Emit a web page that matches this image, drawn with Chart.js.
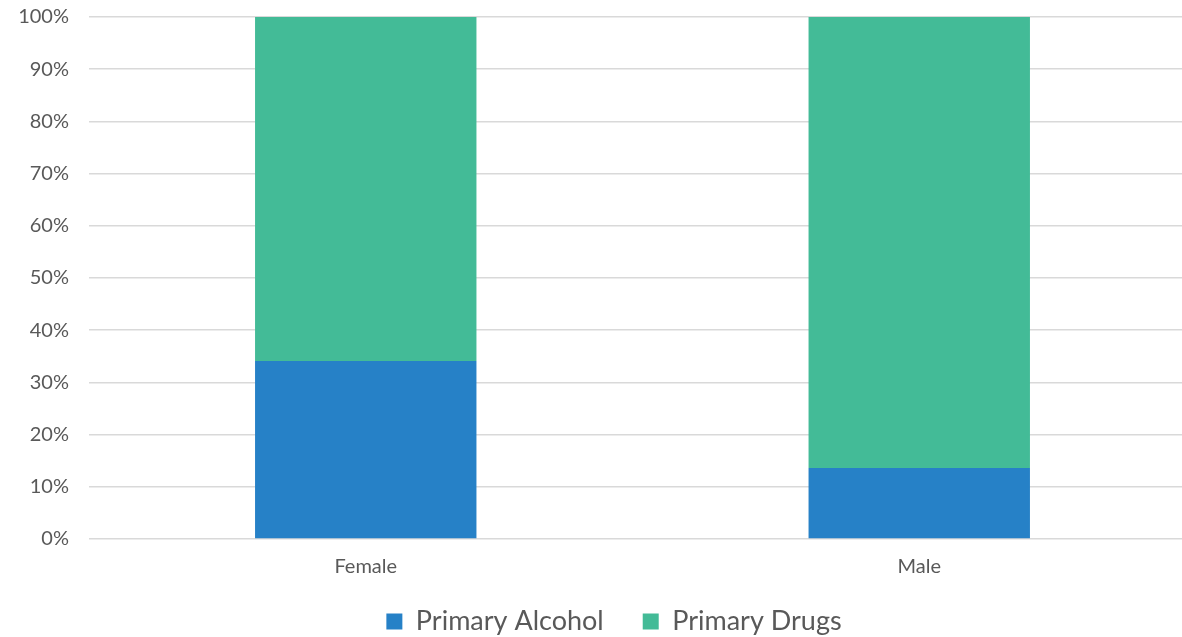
<!DOCTYPE html>
<html>
<head>
<meta charset="utf-8">
<script src="https://cdn.jsdelivr.net/npm/chart.js@4"></script>
<style>
  html, body { margin: 0; padding: 0; background: #fff; overflow: hidden; }
  #wrap { width: 1196px; height: 637px; }
</style>
</head>
<body>
<div id="wrap"><canvas id="c" width="1196" height="637"></canvas></div>
<script>
const categories = ["Female", "Male"];
const seriesNames = ["Primary Alcohol", "Primary Drugs"];
const primaryAlcohol = [34.1, 13.6];
const primaryDrugs = [65.9, 86.4];
const yTicks = [0, 10, 20, 30, 40, 50, 60, 70, 80, 90, 100];

const textColor = "#595959";
const gridColor = "#d9d9d9";

const legendShift = {
  id: "legendShift",
  afterLayout(chart) {
    const lg = chart.legend;
    if (lg) {
      lg.left += 16; lg.right += 16;
      lg.top -= 10; lg.bottom -= 10;
    }
  }
};

new Chart(document.getElementById("c"), {
  type: "bar",
  data: {
    labels: categories,
    datasets: [
      { label: seriesNames[0], data: primaryAlcohol, backgroundColor: "#2681c7", borderWidth: 0 },
      { label: seriesNames[1], data: primaryDrugs, backgroundColor: "#43bb97", borderWidth: 0 }
    ]
  },
  options: {
    responsive: false,
    animation: false,
    devicePixelRatio: 1,
    layout: { padding: { top: 0, left: 0, right: 0, bottom: -18 } },
    datasets: { bar: { categoryPercentage: 0.4, barPercentage: 1.0 } },
    scales: {
      x: {
        stacked: true,
        grid: { display: false, drawTicks: false },
        border: { display: false },
        afterFit(scale) { scale.height = 40; },
        ticks: { color: textColor, font: { family: "Lato", size: 20 }, padding: 16 }
      },
      y: {
        stacked: true,
        min: 0,
        max: 100,
        afterBuildTicks(scale) { scale.ticks = yTicks.map(v => ({ value: v })); },
        afterFit(scale) { scale.width = 89; scale.paddingTop = 17; },
        grid: { color: gridColor, lineWidth: 1.5, drawTicks: false },
        border: { display: false },
        ticks: {
          color: textColor,
          font: { family: "Lato", size: 20 },
          padding: 20,
          callback: v => v + "%"
        }
      }
    },
    plugins: {
      legend: {
        position: "bottom",
        labels: {
          color: textColor,
          font: { family: "Lato", size: 27 },
          boxWidth: 16,
          boxHeight: 16,
          padding: 39
        }
      },
      tooltip: { enabled: false }
    }
  },
  plugins: [legendShift]
});
</script>
</body>
</html>
